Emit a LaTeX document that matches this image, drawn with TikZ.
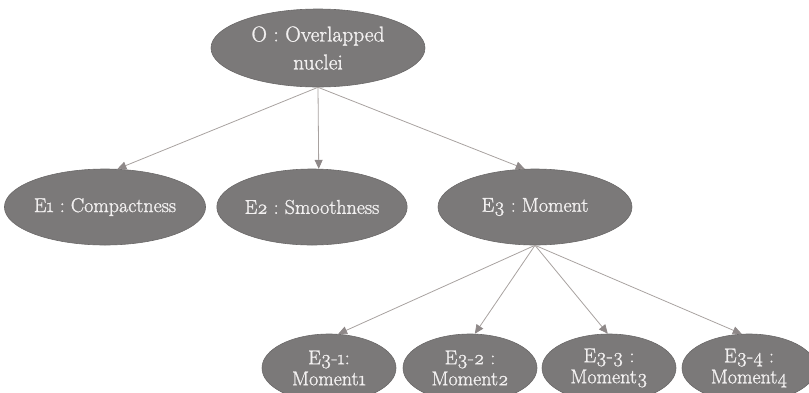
\documentclass[tikz,border=0pt]{standalone}
\usepackage{fontspec}
\setmainfont{Latin Modern Roman}[Numbers=OldStyle]
\newfontfamily\nodefont{Latin Modern Roman}[Numbers=OldStyle, FakeBold=1.2]
\usetikzlibrary{shapes.geometric,arrows.meta}
\definecolor{nodefill}{HTML}{7B7979}
\definecolor{nodeline}{HTML}{6A6868}
\definecolor{nodetext}{HTML}{F2F0F0}
\definecolor{linkcol}{HTML}{A8A2A0}
\definecolor{tipcol}{HTML}{8E8888}
\tikzset{
  ell/.style={ellipse, fill=nodefill, draw=nodeline, line width=0.6pt,
    text=nodetext, inner sep=0pt, align=center, font=\nodefont\frenchspacing\fontsize{20}{27}\selectfont},
  topell/.style={ell, minimum width=214pt, minimum height=78pt, font=\nodefont\frenchspacing\fontsize{21.5}{28}\selectfont},
  midell/.style={ell, minimum width=194pt, minimum height=76pt},
  lowell/.style={ell, minimum width=134pt, minimum height=68pt, font=\nodefont\frenchspacing\fontsize{20}{21}\selectfont},
  link/.style={draw=linkcol, line width=0.8pt, -{Triangle[length=9pt,width=8pt,fill=tipcol,color=tipcol]}}
}
\begin{document}
\begin{tikzpicture}[x=1pt,y=-1pt]
\useasboundingbox (0,0) rectangle (809,392);
\clip (0,0) rectangle (809,392);
\node[topell] (O) at (318,48) {O : Overlapped\\nuclei};
\node[midell] (E1) at (105,207) {E1 : Compactness};
\node[midell, minimum width=182pt] (E2) at (312,207) {E2 : Smoothness};
\node[midell] (E3) at (535,207) {E3 : Moment};
\node[lowell] (E31) at (329,368) {E3-1:\\Moment1};
\node[lowell] (E32) at (470,368) {E3-2 :\\Moment2};
\node[lowell] (E33) at (609,368) {E3-3 :\\Moment3};
\node[lowell] (E34) at (749,368) {E3-4 :\\Moment4};
\draw[link] (O.south) -- (E1.72);
\draw[link] (O.south) -- (E2.80);
\draw[link] (O.south) -- (E3.105);
\draw[link] (E3.south) -- (E31.75);
\draw[link] (E3.south) -- (E32.82);
\draw[link] (E3.south) -- (E33.92);
\draw[link] (E3.south) -- (E34.102);
\end{tikzpicture}
\end{document}
